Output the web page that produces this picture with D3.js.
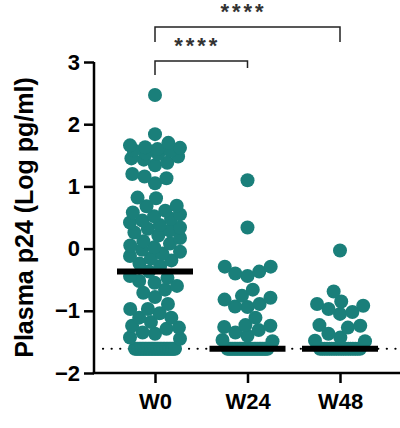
<!DOCTYPE html>
<html>
<head>
<meta charset="utf-8">
<script src="https://cdn.jsdelivr.net/npm/d3@7"></script>
<style>
  html, body { margin: 0; padding: 0; background: #fff; }
  svg { display: block; font-family: "Liberation Sans", Arial, sans-serif; }
</style>
</head>
<body>
<svg id="chart" width="400" height="428"></svg>
<script>
// ---------------- DATA ----------------
const categories = ["W0", "W24", "W48"];
const lod = -1.61;
const w0Values = [
  2.47, 1.84,
  1.70, 1.66, 1.63, 1.62, 1.60, 1.57, 1.53, 1.48, 1.43, 1.38, 1.34, 1.45, 1.52, 1.58,
  1.20, 1.16, 1.13, 1.05,
  0.82, 0.81, 0.69, 0.68,
  0.61, 0.58, 0.55, 0.52, 0.48, 0.45, 0.42, 0.38, 0.34, 0.32, 0.29, 0.26,
  0.21, 0.17, 0.12, 0.08, 0.05, 0.02, -0.02, -0.05, -0.08, -0.12, -0.16, -0.19, -0.24, -0.28,
  -0.37,
  -0.44, -0.47, -0.52, -0.55, -0.60, -0.66, -0.71, -0.78, -0.89, -0.97, -0.97, -1.04,
  -1.11, -1.11, -1.18, -1.24, -1.27, -1.29, -1.35, -1.37, -1.43, -1.45,
  -1.61, -1.61, -1.61, -1.61, -1.61, -1.61, -1.61, -1.61, -1.61, -1.61,
  -1.61, -1.61, -1.61, -1.61, -1.61, -1.61, -1.61, -1.61, -1.61, -1.61,
  -1.61, -1.61, -1.61, -1.61, -1.61, -1.61, -1.61, -1.61
];
const w24Values = [
  1.10, 0.34,
  -0.29, -0.37, -0.44, -0.40, -0.29,
  -0.66, -0.79, -0.89, -0.94, -0.93, -0.82, -0.76,
  -1.11, -1.24, -1.31, -1.26, -1.23,
  -1.35, -1.40, -1.47, -1.49,
  -1.61, -1.61, -1.61, -1.61, -1.61, -1.61, -1.61, -1.61, -1.61, -1.61,
  -1.61, -1.61, -1.61, -1.61, -1.61, -1.61, -1.61, -1.61, -1.61, -1.61,
  -1.61, -1.61, -1.61, -1.61, -1.61
];
const w48Values = [
  -0.03,
  -0.69,
  -0.89, -0.97, -0.92, -0.85,
  -1.02, -1.05,
  -1.23, -1.27, -1.24,
  -1.37, -1.43, -1.48, -1.49,
  -1.61, -1.61, -1.61, -1.61, -1.61, -1.61, -1.61, -1.61, -1.61,
  -1.61, -1.61, -1.61, -1.61, -1.61, -1.61, -1.61, -1.61, -1.61
];
const seriesValues = [w0Values, w24Values, w48Values];
const medians = [-0.37, -1.61, -1.61];
const yTicks = [-2, -1, 0, 1, 2, 3];
const comparisonFrom = ["W0", "W0"];
const comparisonTo = ["W48", "W24"];
const comparisonLabels = ["****", "****"];
const yTitle = "Plasma p24 (Log pg/ml)";

// ---------------- STYLE / LAYOUT ----------------
const dotColor = "#1a7f7a";
const dotR = 7;
const collide = 12.5;
const maxHalf = 25;
const lodHalf = 20;

const svg = d3.select("#chart");
const y = d3.scaleLinear().domain([-2, 3]).range([373, 62]);
const x = d3.scalePoint().domain(categories).range([155, 340]);

// ---------------- BEESWARM ----------------
function swarm(values) {
  const pts = [];
  const lodVals = values.filter(v => v === lod);
  const others = values.filter(v => v !== lod).sort((a, b) => a - b);
  const n = lodVals.length;
  lodVals.forEach((v, i) => {
    const dx = n > 1 ? -lodHalf + (2 * lodHalf) * i / (n - 1) : 0;
    pts.push({ v, dx, py: y(v) });
  });
  let flip = 1;
  others.forEach(v => {
    const py = y(v);
    const nb = pts.filter(q => Math.abs(q.py - py) < collide);
    let cands = [0, maxHalf, -maxHalf];
    nb.forEach(q => {
      const d = Math.sqrt(collide * collide - (q.py - py) ** 2);
      cands.push(q.dx + d, q.dx - d);
    });
    cands = cands.filter(c => Math.abs(c) <= maxHalf + 1e-6);
    const score = c => d3.sum(nb, q => Math.max(0, collide - Math.hypot(q.dx - c, q.py - py)));
    let best = null, bestS = Infinity;
    cands.forEach(c => {
      const s = score(c);
      if (s < bestS - 1e-6 ||
          (Math.abs(s - bestS) <= 1e-6 && (Math.abs(c) < Math.abs(best) - 1e-6 ||
           (Math.abs(Math.abs(c) - Math.abs(best)) <= 1e-6 && c * flip > 0)))) {
        best = c; bestS = s;
      }
    });
    flip = -flip;
    pts.push({ v, dx: best, py });
  });
  return pts;
}

// ---------------- LOD dotted line ----------------
svg.append("line")
  .attr("x1", 103).attr("x2", 400)
  .attr("y1", y(lod)).attr("y2", y(lod))
  .attr("stroke", "#000").attr("stroke-width", 2.2)
  .attr("stroke-linecap", "round")
  .attr("stroke-dasharray", "0.1,8.5");

// ---------------- Points ----------------
categories.forEach((cat, i) => {
  const pts = swarm(seriesValues[i]);
  svg.append("g").selectAll("circle").data(pts).join("circle")
    .attr("cx", d => x(cat) + d.dx)
    .attr("cy", d => d.py)
    .attr("r", dotR)
    .attr("fill", dotColor);
});

// ---------------- Medians ----------------
svg.append("g").selectAll("line").data(categories).join("line")
  .attr("x1", d => x(d) - 38).attr("x2", d => x(d) + 38)
  .attr("y1", (d, i) => y(medians[i])).attr("y2", (d, i) => y(medians[i]))
  .attr("stroke", "#000").attr("stroke-width", 6);

// ---------------- Axes ----------------
const yAxis = svg.append("g").attr("transform", "translate(94,0)")
  .call(d3.axisLeft(y).tickValues(yTicks).tickSize(10).tickPadding(4).tickFormat(d3.format("d")));
yAxis.select(".domain").attr("d", `M0,${y(3)}V${y(-2)}`);
yAxis.selectAll("path,line").attr("stroke", "#000").attr("stroke-width", 2.5);
yAxis.selectAll("text").attr("font-size", 22).attr("font-weight", "bold").attr("fill", "#000")
  .attr("font-family", "'Liberation Sans', Arial, sans-serif");

const xAxis = svg.append("g").attr("transform", `translate(0,${y(-2)})`)
  .call(d3.axisBottom(x).tickSize(10).tickPadding(10));
xAxis.select(".domain").remove();
xAxis.append("line").attr("x1", 92.75).attr("x2", 400).attr("y1", 0).attr("y2", 0)
  .attr("stroke", "#000").attr("stroke-width", 2.5);
xAxis.selectAll("line").attr("stroke", "#000").attr("stroke-width", 2.5);
xAxis.selectAll("text").attr("font-size", 22).attr("font-weight", "bold").attr("fill", "#000")
  .attr("font-family", "'Liberation Sans', Arial, sans-serif");

// Y title
svg.append("text")
  .attr("transform", `translate(33,${(y(3) + y(-2)) / 2}) rotate(-90)`)
  .attr("text-anchor", "middle")
  .attr("font-size", 25).attr("font-weight", "bold").attr("fill", "#000")
  .text(yTitle);

// ---------------- Significance brackets ----------------
const bracketY = [27, 61];
const leftDrop = [15, 14];
const rightDrop = [15, 7];
comparisonFrom.forEach((from, i) => {
  const x1 = x(from), x2 = x(comparisonTo[i]), by = bracketY[i];
  svg.append("path")
    .attr("d", `M${x1},${by + leftDrop[i]}V${by}H${x2}V${by + rightDrop[i]}`)
    .attr("fill", "none").attr("stroke", "#222").attr("stroke-width", 1.5);
  svg.append("text")
    .attr("x", (x1 + x2) / 2 - 4).attr("y", by - 8)
    .attr("text-anchor", "middle")
    .attr("font-size", 22).attr("font-weight", "bold").attr("letter-spacing", 3)
    .attr("fill", "#333")
    .text(comparisonLabels[i]);
});
</script>
</body>
</html>
